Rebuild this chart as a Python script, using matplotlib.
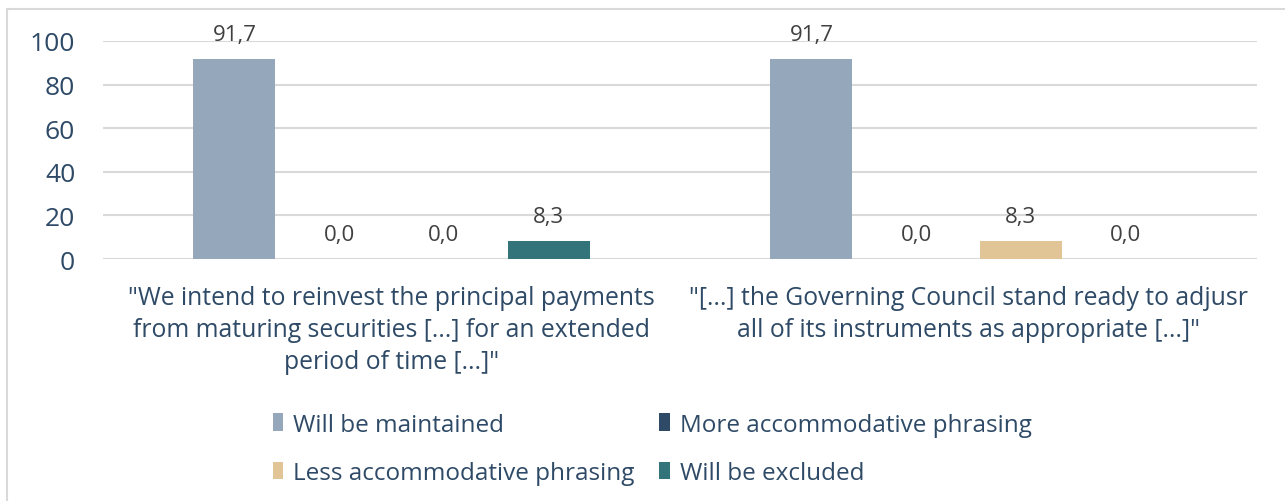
import numpy as np
import matplotlib.pyplot as plt
from matplotlib.patches import Rectangle

plt.rcParams['font.family'] = ['Open Sans', 'DejaVu Sans']

# data
categories = ['"We intend to reinvest the principal payments\nfrom maturing securities [...] for an extended\nperiod of time [...]"',
              '"[...] the Governing Council stand ready to adjusr\nall of its instruments as appropriate [...]"']
series = ['Will be maintained', 'More accommodative phrasing',
          'Less accommodative phrasing', 'Will be excluded']
maintained = [91.7, 91.7]
more_accom = [0.0, 0.0]
less_accom = [0.0, 8.3]
excluded = [8.3, 0.0]
values = [maintained, more_accom, less_accom, excluded]
colors = ['#94A7BB', '#2E4A66', '#E1C596', '#33737A']

text_blue = '#2E4A66'
label_gray = '#404040'

fig = plt.figure(figsize=(12.85, 5.02), dpi=100)
ax = fig.add_axes([103/1285, 1 - 260/502, (1257 - 103)/1285, (260 - 42)/502])

# chart border
fig.patches.append(Rectangle((7/1285, -0.1), 1.2, 1 - 10/502 + 0.1, transform=fig.transFigure,
                             fill=False, edgecolor='#D9D9D9', linewidth=1.5))

x = np.arange(len(categories))
width = 0.142
pitch = 0.1815
handles = []
for i, (vals, col) in enumerate(zip(values, colors)):
    pos = x + (i - 1.5) * pitch
    bars = ax.bar(pos, vals, width, color=col, label=series[i], zorder=3)
    handles.append(bars)
    for b, v in zip(bars, vals):
        ax.annotate(f'{v:.1f}'.replace('.', ','), (b.get_x() + b.get_width()/2, v),
                    xytext=(0, 10), textcoords='offset points', ha='center', va='bottom',
                    fontsize=16, color=label_gray)

ax.set_xlim(-0.5, 1.5)
ax.set_ylim(0, 100)
ax.set_yticks(np.arange(0, 101, 20))
ax.tick_params(axis='y', labelsize=19, colors=text_blue, length=0, pad=20)
ax.tick_params(axis='x', length=0, pad=19)
ax.set_xticks(x)
ax.set_xticklabels(categories, fontsize=17.8, color=text_blue, linespacing=1.36)
ax.grid(axis='y', color='#D9D9D9', linewidth=1.5, zorder=0)
for s in ax.spines.values():
    s.set_visible(False)

# legend filled row by row
order = [0, 2, 1, 3]
ax.legend([handles[k] for k in order], [series[k] for k in order],
          loc='upper left', bbox_to_anchor=(0.1385, -0.66), ncol=2, frameon=False,
          fontsize=17.5, labelcolor=text_blue, handlelength=0.45, handleheight=0.75,
          handletextpad=0.4, columnspacing=1.0, labelspacing=1.0, borderaxespad=0)

fig.savefig('out.png', dpi=100)
